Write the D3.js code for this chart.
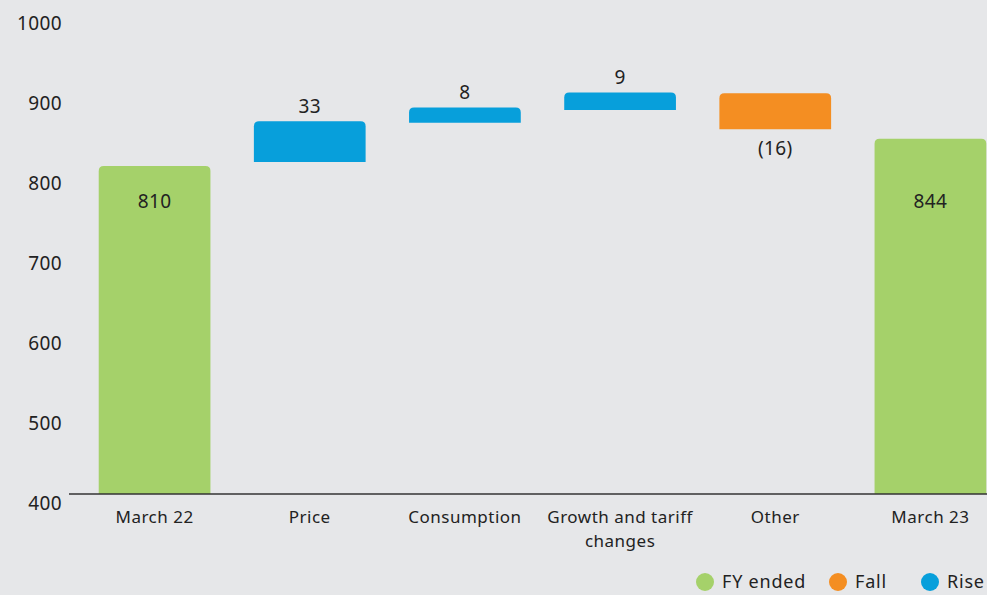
<!DOCTYPE html>
<html>
<head>
<meta charset="utf-8">
<script src="https://cdn.jsdelivr.net/npm/d3@7"></script>
<style>
  html, body { margin: 0; padding: 0; background: #e6e7e9; overflow: hidden; }
  svg { display: block; font-family: "Noto Sans", sans-serif; }
</style>
</head>
<body>
<div id="chart"></div>
<script>
const width = 987;
const height = 595;

// data
const categories = ["March 22", "Price", "Consumption", "Growth and tariff changes", "Other", "March 23"];
const kinds = ["total", "rise", "rise", "rise", "fall", "total"];
const labels = ["810", "33", "8", "9", "(16)", "844"];
// bar extents as drawn (the step bars are not to scale in the original)
const barLow = [400, 815, 864, 880, 856, 400];
const barHigh = [810, 866, 883, 902, 901, 844];
const yTicks = [400, 500, 600, 700, 800, 900, 1000];
const legendItems = ["FY ended", "Fall", "Rise"];

const colors = { total: "#a5d16a", fall: "#f48e22", rise: "#079fdb" };
const legendColors = [colors.total, colors.fall, colors.rise];

const bars = categories.map((c, i) => ({
    name: c, kind: kinds[i], label: labels[i], low: barLow[i], high: barHigh[i]
}));

const svg = d3.select("#chart")
    .append("svg")
    .attr("width", width)
    .attr("height", height);

const x = d3.scaleBand()
    .domain(categories)
    .range([77, 1008])
    .paddingInner(0.28)
    .paddingOuter(0.14);

const y = d3.scaleLinear()
    .domain([400, 1000])
    .range([494, 14]);

// y tick labels (sit a little under their gridline level)
svg.append("g")
    .selectAll("text")
    .data(yTicks)
    .join("text")
    .attr("x", 62)
    .attr("y", d => y(d) + 9)
    .attr("dy", "0.35em")
    .attr("text-anchor", "end")
    .attr("font-size", 19)
    .attr("letter-spacing", 0.4)
    .attr("fill", "#222")
    .text(d => d);

function topRounded(x0, y0, w, h, r) {
    r = Math.min(r, h, w / 2);
    return `M${x0},${y0 + h}V${y0 + r}Q${x0},${y0} ${x0 + r},${y0}` +
        `H${x0 + w - r}Q${x0 + w},${y0} ${x0 + w},${y0 + r}V${y0 + h}Z`;
}

svg.append("g")
    .selectAll("path")
    .data(bars)
    .join("path")
    .attr("d", d => topRounded(x(d.name), y(d.high), x.bandwidth(), y(d.low) - y(d.high), 5))
    .attr("fill", d => colors[d.kind]);

// baseline
svg.append("line")
    .attr("x1", 69)
    .attr("x2", width)
    .attr("y1", y(400))
    .attr("y2", y(400))
    .attr("stroke", "#333")
    .attr("stroke-width", 1.5);

// value labels
const totalLabelY = y(d3.min(bars.filter(d => d.kind === "total"), d => d.high)) + 35;
svg.append("g")
    .selectAll("text")
    .data(bars)
    .join("text")
    .attr("x", d => x(d.name) + x.bandwidth() / 2)
    .attr("y", d => {
        if (d.kind === "total") return totalLabelY;
        if (d.kind === "fall") return y(d.low) + 19;
        return y(d.high) - 15;
    })
    .attr("dy", "0.35em")
    .attr("text-anchor", "middle")
    .attr("font-size", 19)
    .attr("letter-spacing", 0.4)
    .attr("fill", "#222")
    .text(d => d.label);

// category labels, wrapped
const maxLabelWidth = 150;
svg.append("g")
    .selectAll("text")
    .data(categories)
    .join("text")
    .attr("x", d => x(d) + x.bandwidth() / 2)
    .attr("y", 517)
    .attr("text-anchor", "middle")
    .attr("font-size", 17)
    .attr("letter-spacing", 0.5)
    .attr("fill", "#222")
    .each(function (d) {
        const t = d3.select(this);
        const words = d.split(" ");
        let line = [];
        let tspan = t.append("tspan").attr("x", t.attr("x")).attr("dy", "0.35em");
        words.forEach(w => {
            line.push(w);
            tspan.text(line.join(" "));
            if (tspan.node().getComputedTextLength() > maxLabelWidth && line.length > 1) {
                line.pop();
                tspan.text(line.join(" "));
                line = [w];
                tspan = t.append("tspan").attr("x", t.attr("x")).attr("dy", "24px").text(w);
            }
        });
    });

// legend (pulled up just enough to stay inside the frame)
const legendX = [705, 838, 930];
const legend = svg.append("g")
    .selectAll("g")
    .data(legendItems)
    .join("g")
    .attr("transform", (d, i) => `translate(${legendX[i]},582)`);

legend.append("circle")
    .attr("r", 9)
    .attr("fill", (d, i) => legendColors[i]);

legend.append("text")
    .attr("x", 17)
    .attr("y", 6)
    .attr("font-size", 18)
    .attr("letter-spacing", 0.8)
    .attr("fill", "#222")
    .text(d => d);
</script>
</body>
</html>
